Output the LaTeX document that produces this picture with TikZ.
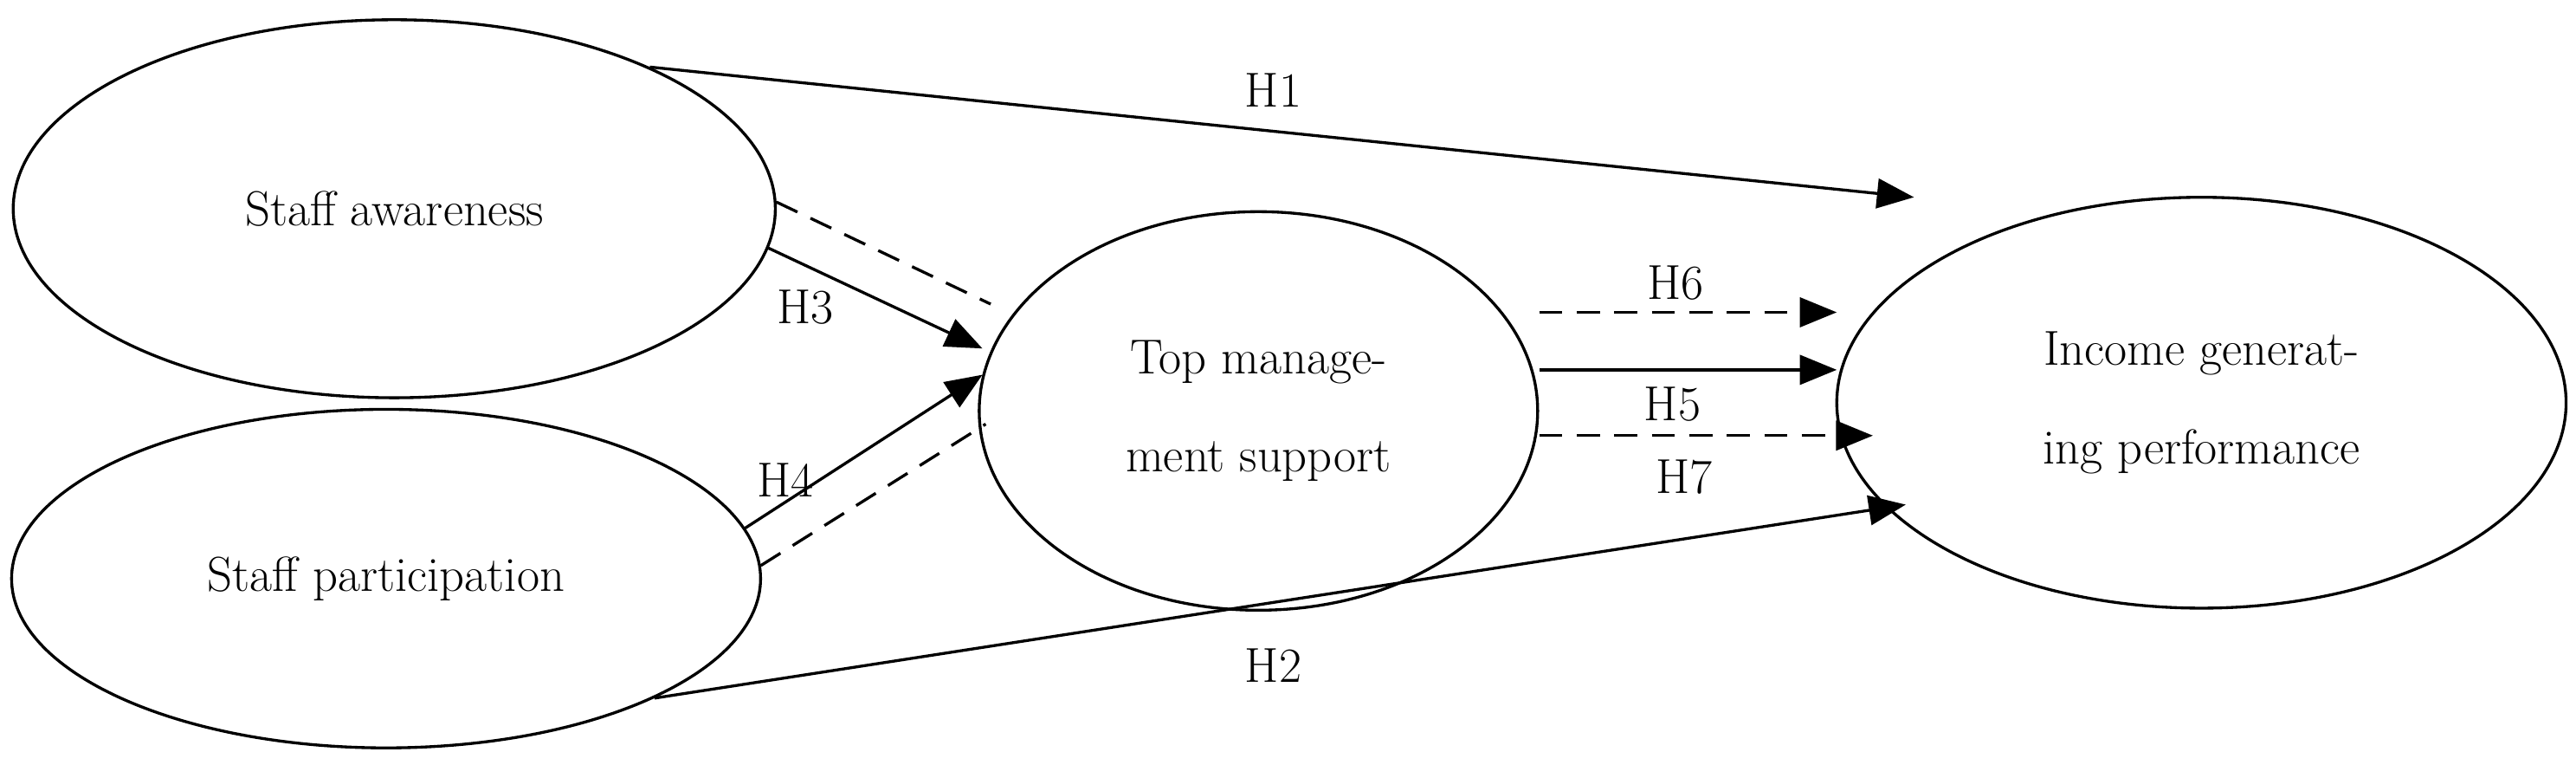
\documentclass[tikz,border=0pt]{standalone}
\usepackage{tikz}
\usetikzlibrary{arrows.meta,shapes.geometric}
\tikzset{%
    construct/.style={ellipse,draw,line width=1pt,inner sep=0pt,align=center,font=\fontsize{17}{34}\selectfont}
}
\begin{document}
\begin{tikzpicture}[
        x=0.02cm, y=-0.02cm,
        path/.style={line width=1pt,-{Triangle[length=0.45cm,width=0.36cm]}},
        dpath/.style={path,dash pattern=on 8pt off 5pt},
        hlab/.style={font=\fontsize{17}{20}\selectfont}
        ]
        \useasboundingbox (0,0) rectangle (1568,465);
        \node[construct, minimum width=9.28cm, minimum height=4.6cm] (aware) at (240,127) {Staff awareness};
        \node[construct, minimum width=9.12cm, minimum height=4.12cm] (part) at (235,352) {Staff participation};
        \node[construct, minimum width=6.8cm, minimum height=4.85cm] (top) at (766,250) {Top manage-\\ment support};
        \node[construct, minimum width=8.88cm, minimum height=5cm] (inc) at (1340,245) {Income generat-\\ing performance};

        % arrow ends
        \coordinate (h1e) at (1165,120);
        \coordinate (h2e) at (1160,307);
        \coordinate (h3e) at (598,212);
        \coordinate (h3d) at (603,185);
        \coordinate (h4e) at (598,228);
        \coordinate (h4d) at (600,258);
        \coordinate (h6e) at (1118,190);
        \coordinate (h5e) at (1118,225);
        \coordinate (h7e) at (1140,265);

        \draw[path] (aware.29) -- (h1e);
        \draw[path] (part.-24) -- (h2e);
        \draw[path] (aware.-6) -- (h3e);
        \draw[line width=1pt,dash pattern=on 8pt off 5pt] (aware.1) -- (h3d);
        \draw[path] (part.8) -- (h4e);
        \draw[line width=1pt,dash pattern=on 8pt off 5pt] (part.2) -- (h4d);
        \draw[dpath] (top.east |- h6e) -- (h6e);
        \draw[path] (top.east |- h5e) -- (h5e);
        \draw[dpath] (top.east |- h7e) -- (h7e);

        \node[hlab] (l1) at (775,55) {H1};
        \node[hlab] (l2) at (775,405) {H2};
        \node[hlab] (l3) at (490,187) {H3};
        \node[hlab] (l4) at (478,292) {H4};
        \node[hlab] (l5) at (1018,246) {H5};
        \node[hlab] (l6) at (1020,172) {H6};
        \node[hlab] (l7) at (1025,290) {H7};
    \end{tikzpicture}
\end{document}
